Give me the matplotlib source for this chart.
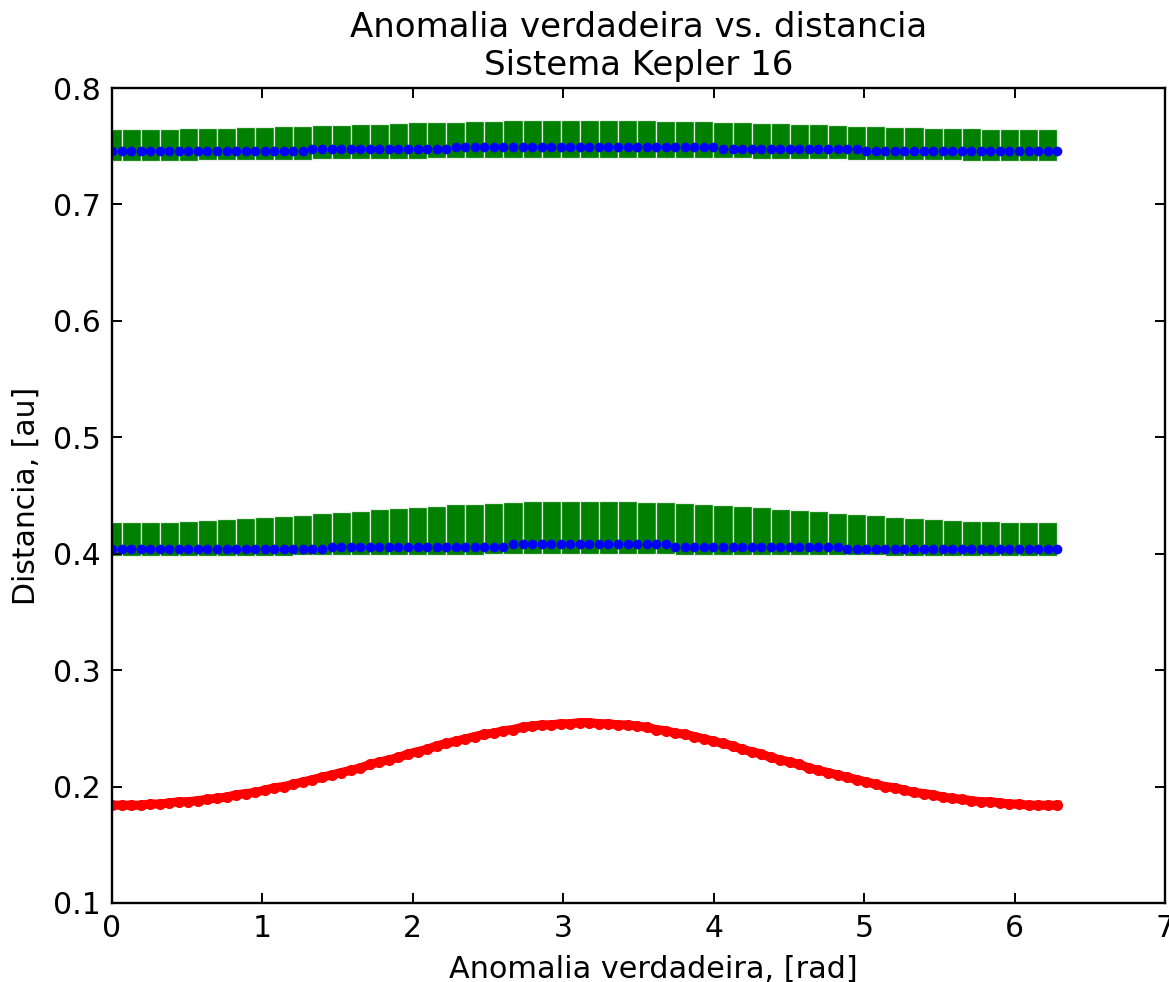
# Anomalia verdadeira vs. distancia - sistema Kepler 16
import numpy as np
import matplotlib.pyplot as plt

plt.rcParams['font.family'] = ['DejaVu Sans']

# anomalia verdadeira (100 pontos entre 0 e 2pi)
theta = np.linspace(0, 2 * np.pi, 100)

# distancia entre as estrelas A e B [au]
r_estrelas = [0.184, 0.184, 0.184, 0.184, 0.185, 0.185, 0.186, 0.187, 0.187, 0.188,
              0.189, 0.190, 0.191, 0.193, 0.194, 0.195, 0.197, 0.199, 0.200, 0.202,
              0.204, 0.206, 0.208, 0.210, 0.212, 0.214, 0.216, 0.219, 0.221, 0.223,
              0.225, 0.228, 0.230, 0.232, 0.235, 0.237, 0.239, 0.241, 0.243, 0.245,
              0.246, 0.248, 0.249, 0.251, 0.252, 0.253, 0.253, 0.254, 0.254, 0.255,
              0.255, 0.254, 0.254, 0.253, 0.253, 0.252, 0.251, 0.249, 0.248, 0.246,
              0.245, 0.243, 0.241, 0.239, 0.237, 0.235, 0.232, 0.230, 0.228, 0.225,
              0.223, 0.221, 0.219, 0.216, 0.214, 0.212, 0.210, 0.208, 0.206, 0.204,
              0.202, 0.200, 0.199, 0.197, 0.195, 0.194, 0.193, 0.191, 0.190, 0.189,
              0.188, 0.187, 0.187, 0.186, 0.185, 0.185, 0.184, 0.184, 0.184, 0.184]

# distancia media do planeta, orbita interna e externa [au]
r_interna = [0.4040] * 23 + [0.4061] * 19 + [0.4081] * 17 + [0.4061] * 18 + [0.4040] * 23
r_externa = [0.7456] * 21 + [0.7478] * 15 + [0.7497] * 28 + [0.7478] * 15 + [0.7456] * 21

# faixa (min / max) da distancia, um ponto sim outro nao
faixa_int_sup = [0.4269, 0.4270, 0.4272, 0.4276, 0.4281, 0.4287, 0.4295, 0.4303, 0.4313, 0.4323,
                 0.4334, 0.4346, 0.4358, 0.4369, 0.4381, 0.4393, 0.4403, 0.4414, 0.4423, 0.4431,
                 0.4439, 0.4445, 0.4449, 0.4453, 0.4455, 0.4455, 0.4454, 0.4451, 0.4447, 0.4442,
                 0.4435, 0.4427, 0.4418, 0.4409, 0.4398, 0.4387, 0.4375, 0.4363, 0.4352, 0.4340,
                 0.4329, 0.4318, 0.4308, 0.4299, 0.4291, 0.4284, 0.4278, 0.4274, 0.4271, 0.4269]
faixa_int_inf = [0.3980, 0.3980, 0.3980, 0.3981, 0.3981, 0.3981, 0.3982, 0.3983, 0.3984, 0.3984,
                 0.3985, 0.3986, 0.3987, 0.3988, 0.3989, 0.3990, 0.3991, 0.3992, 0.3992, 0.3993,
                 0.3994, 0.3994, 0.3995, 0.3995, 0.3995, 0.3995, 0.3995, 0.3995, 0.3994, 0.3994,
                 0.3993, 0.3993, 0.3992, 0.3991, 0.3990, 0.3989, 0.3989, 0.3988, 0.3987, 0.3986,
                 0.3985, 0.3984, 0.3983, 0.3982, 0.3982, 0.3981, 0.3981, 0.3980, 0.3980, 0.3980]
faixa_ext_sup = [0.7648, 0.7648, 0.7649, 0.7651, 0.7653, 0.7655, 0.7659, 0.7662, 0.7666, 0.7670,
                 0.7675, 0.7680, 0.7685, 0.7690, 0.7694, 0.7699, 0.7704, 0.7708, 0.7712, 0.7715,
                 0.7718, 0.7721, 0.7723, 0.7724, 0.7725, 0.7725, 0.7725, 0.7723, 0.7722, 0.7720,
                 0.7717, 0.7714, 0.7710, 0.7706, 0.7701, 0.7697, 0.7692, 0.7687, 0.7682, 0.7677,
                 0.7673, 0.7668, 0.7664, 0.7660, 0.7657, 0.7654, 0.7652, 0.7650, 0.7649, 0.7648]
faixa_ext_inf = [0.7375, 0.7375, 0.7375, 0.7376, 0.7377, 0.7378, 0.7379, 0.7380, 0.7381, 0.7383,
                 0.7384, 0.7386, 0.7387, 0.7389, 0.7391, 0.7392, 0.7394, 0.7395, 0.7397, 0.7398,
                 0.7399, 0.7400, 0.7400, 0.7401, 0.7401, 0.7401, 0.7401, 0.7400, 0.7400, 0.7399,
                 0.7398, 0.7397, 0.7396, 0.7395, 0.7393, 0.7391, 0.7390, 0.7388, 0.7387, 0.7385,
                 0.7383, 0.7382, 0.7380, 0.7379, 0.7378, 0.7377, 0.7376, 0.7376, 0.7375, 0.7375]

theta_faixa = theta[::2]

fig = plt.figure(figsize=(11.69, 9.82), dpi=100)
ax = fig.add_axes([112 / 1169, 1 - 903 / 982, (1165 - 112) / 1169, (903 - 88) / 982])

# faixas de erro (verde) das orbitas do planeta
for sup, inf in [(faixa_int_sup, faixa_int_inf), (faixa_ext_sup, faixa_ext_inf)]:
    sup = np.array(sup)
    inf = np.array(inf)
    ax.bar(theta_faixa, sup - inf, bottom=inf, width=0.127, color='#008000',
           edgecolor='#e8f0e8', linewidth=0.9, align='center')

ax.plot(theta, r_interna, 'o', color='#0000ff', ms=7.0, mew=0)
ax.plot(theta, r_externa, 'o', color='#0000ff', ms=7.0, mew=0)
# estrelas: pontos bem juntos, parecem uma linha grossa
ax.plot(theta, r_estrelas, '-o', color='#ff0000', lw=6.5, ms=8.0, mew=0)

ax.set_xlim(0, 7)
ax.set_ylim(0.1, 0.8)
ax.set_title('Anomalia verdadeira vs. distancia\nSistema Kepler 16', fontsize=24.5, pad=9)
# no original o rotulo x fica um pouco deslocado para a direita
ax.set_xlabel('Anomalia verdadeira, [rad]', fontsize=21.8, labelpad=8, x=0.514)
ax.set_ylabel('Distancia, [au]', fontsize=21.5, labelpad=9)

ax.tick_params(direction='in', length=7, width=1.4, top=True, right=True,
               labelsize=21.5, pad=8)
for s in ax.spines.values():
    s.set_linewidth(1.7)

fig.savefig('out.png', dpi=100, facecolor='white')
